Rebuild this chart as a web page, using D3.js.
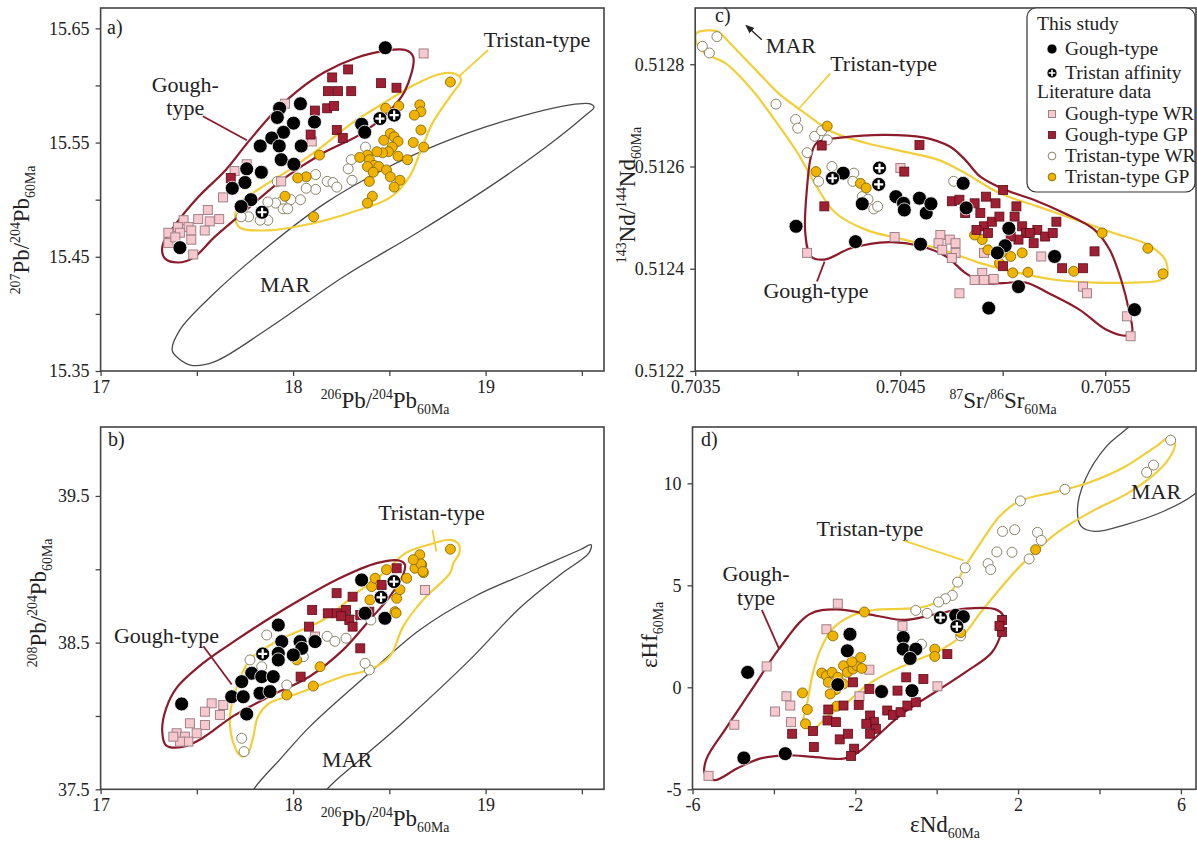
<!DOCTYPE html>
<html><head><meta charset="utf-8">
<script src="https://cdn.jsdelivr.net/npm/d3@7"></script>
<style>
body{margin:0;background:#fff}
svg{display:block}
svg text{font-family:'Liberation Serif','Times New Roman',serif !important;fill:#222}
</style></head><body>
<svg id="chart" width="1197" height="843"></svg>
<script>
// ---------------- DATA: panel a (207Pb/204Pb vs 206Pb/204Pb) ----------------
const aGoughThis=[[18.479,15.633],[17.412,15.458],[17.930,15.580],[17.918,15.572],[18.038,15.584],[18.002,15.567],[18.111,15.568],[17.950,15.559],[17.829,15.547],[17.889,15.554],[17.928,15.547],[18.042,15.547],[17.938,15.535],[18.004,15.531],[17.759,15.527],[17.750,15.515],[17.684,15.510],[17.835,15.524],[17.781,15.500],[17.730,15.494],[18.356,15.566],[18.372,15.559]];
const aTristanAff=[[17.839,15.489],[18.451,15.571],[18.525,15.574]];
const aGoughGP=[[18.203,15.607],[18.286,15.614],[18.181,15.595],[18.233,15.595],[18.302,15.595],[18.113,15.578],[18.177,15.580],[18.213,15.582],[18.227,15.561],[18.258,15.554],[18.091,15.557],[18.457,15.602],[18.537,15.598],[17.676,15.519]];
const aGoughWR=[[18.678,15.628],[17.958,15.584],[18.097,15.551],[17.696,15.525],[17.636,15.502],[17.557,15.491],[17.507,15.483],[17.567,15.481],[17.616,15.483],[17.431,15.482],[17.402,15.476],[17.457,15.476],[17.352,15.471],[17.412,15.471],[17.471,15.473],[17.541,15.473],[17.352,15.462],[17.471,15.465],[17.481,15.452],[17.388,15.467],[17.759,15.531],[17.938,15.516]];
const aTristanGP=[[18.817,15.603],[18.481,15.580],[18.549,15.582],[18.658,15.583],[18.664,15.577],[18.630,15.574],[18.664,15.561],[18.624,15.550],[18.678,15.546],[18.505,15.558],[18.525,15.555],[18.471,15.552],[18.545,15.551],[18.515,15.546],[18.495,15.542],[18.465,15.541],[18.435,15.542],[18.386,15.539],[18.396,15.535],[18.421,15.530],[18.386,15.529],[18.445,15.529],[18.485,15.526],[18.416,15.524],[18.545,15.538],[18.594,15.535],[18.505,15.520],[18.555,15.517],[18.525,15.511],[18.396,15.516],[18.412,15.503],[18.386,15.497],[18.137,15.539],[18.068,15.520],[18.024,15.519],[17.958,15.503],[18.107,15.485],[18.346,15.537]];
const aTristanWR=[[18.376,15.546],[18.302,15.535],[18.286,15.527],[18.306,15.517],[18.117,15.522],[18.177,15.516],[18.207,15.515],[18.227,15.511],[18.117,15.509],[18.068,15.510],[17.918,15.516],[18.038,15.500],[17.988,15.500],[17.938,15.498],[17.909,15.497],[17.869,15.498],[17.948,15.492],[17.972,15.492],[17.869,15.482],[17.829,15.482],[17.769,15.485],[17.730,15.485]];
const aGoughField=[[18.624,15.625],[18.584,15.631],[18.465,15.630],[18.326,15.624],[18.167,15.612],[18.028,15.596],[17.909,15.578],[17.769,15.551],[17.650,15.526],[17.511,15.503],[17.392,15.479],[17.322,15.460],[17.332,15.449],[17.402,15.445],[17.481,15.449],[17.590,15.467],[17.750,15.490],[17.948,15.518],[18.147,15.540],[18.346,15.557],[18.485,15.575],[18.580,15.595]];
const aTristanField=[[17.700,15.488],[17.720,15.476],[17.849,15.473],[18.068,15.478],[18.306,15.489],[18.505,15.502],[18.604,15.520],[18.664,15.543],[18.724,15.567],[18.823,15.592],[18.873,15.605],[18.843,15.610],[18.763,15.610],[18.624,15.600],[18.465,15.584],[18.306,15.567],[18.147,15.546],[17.988,15.527],[17.829,15.510],[17.730,15.498]];
const aMARField=[[17.372,15.368],[17.412,15.360],[17.471,15.355],[17.590,15.358],[17.869,15.387],[18.266,15.433],[18.664,15.473],[19.062,15.516],[19.360,15.552],[19.519,15.574],[19.563,15.581],[19.539,15.584],[19.439,15.583],[19.062,15.567],[18.763,15.549],[18.465,15.526],[18.167,15.497],[17.869,15.459],[17.590,15.418],[17.412,15.386]];

// ---------------- DATA: panel b (208Pb/204Pb vs 206Pb/204Pb) ----------------
const bGoughThis=[[18.356,38.927],[18.374,38.700],[18.477,38.666],[17.923,38.620],[17.941,38.507],[18.036,38.507],[18.114,38.507],[18.045,38.461],[17.923,38.427],[18.001,38.416],[17.923,38.382],[17.785,38.291],[17.733,38.234],[17.837,38.268],[17.897,38.268],[17.681,38.131],[17.741,38.131],[17.828,38.155],[17.880,38.166],[17.759,38.013],[17.421,38.082]];
const bTristanAff=[[17.842,38.423],[18.457,38.809],[18.524,38.916]];
const bGoughGP=[[18.099,38.723],[18.083,38.609],[18.226,38.837],[18.309,38.813],[18.275,38.723],[18.226,38.700],[18.349,38.689],[18.396,38.711],[18.292,38.654],[18.309,38.609],[18.349,38.461],[18.039,38.268],[18.460,38.893],[18.538,39.007],[18.180,38.700],[18.250,38.680]];
const bGoughWR=[[17.577,38.086],[17.637,38.075],[17.542,38.029],[17.620,38.007],[17.464,37.950],[17.542,37.938],[17.395,37.882],[17.438,37.859],[17.499,37.882],[17.456,37.825],[17.412,37.825],[17.378,37.859],[18.114,38.541],[18.685,38.859]];
const bTristanGP=[[18.140,38.336],[18.105,38.204],[17.967,38.143],[18.019,38.382],[18.408,38.882],[18.399,38.791],[18.426,38.939],[18.538,38.802],[18.529,38.711],[18.590,38.939],[18.633,39.007],[18.668,39.030],[18.677,38.977],[18.817,39.137],[18.658,39.099],[18.664,39.037],[18.674,38.985],[18.624,39.065],[18.485,38.997],[18.555,38.861],[18.535,38.702]];
const bTristanWR=[[18.306,38.656],[18.177,38.543],[18.217,38.509],[18.396,38.314],[18.374,38.359],[18.404,38.654],[18.275,38.530],[17.776,38.382],[17.837,38.336],[17.863,38.552],[18.105,38.518],[17.967,38.211],[17.733,37.848],[17.745,37.757],[18.053,38.404]];
const bGoughField=[[17.34,37.80],[17.43,37.79],[17.53,37.85],[17.689,37.999],[17.880,38.135],[18.088,38.271],[18.261,38.452],[18.399,38.656],[18.503,38.815],[18.572,38.963],[18.581,39.031],[18.555,39.058],[18.434,39.042],[18.226,38.929],[18.053,38.804],[17.880,38.668],[17.707,38.520],[17.534,38.362],[17.395,38.192],[17.34,38.05],[17.32,37.90]];
const bTristanField=[[17.728,37.727],[17.762,37.738],[17.790,37.840],[17.819,37.999],[17.880,38.090],[17.984,38.135],[18.105,38.192],[18.261,38.271],[18.399,38.316],[18.503,38.407],[18.572,38.611],[18.676,38.793],[18.815,38.974],[18.833,39.042],[18.863,39.110],[18.859,39.173],[18.814,39.201],[18.704,39.167],[18.584,39.110],[18.469,38.974],[18.330,38.838],[18.157,38.656],[17.932,38.520],[17.776,38.384],[17.698,38.158],[17.672,37.999],[17.689,37.818]];
const bMARField=[[17.799,37.507],[17.932,37.704],[18.088,37.929],[18.399,38.296],[18.659,38.588],[18.940,38.813],[19.231,38.983],[19.491,39.133],[19.548,39.167],[19.537,39.112],[19.387,38.963],[19.179,38.738],[18.919,38.384],[18.571,37.956],[18.332,37.684],[18.176,37.500],[18.036,37.228],[17.672,37.228]];

// ---------------- DATA: panel c (143Nd/144Nd vs 87Sr/86Sr) ----------------
const cGoughThis=[[0.703992,0.512483],[0.704222,0.512587],[0.704315,0.512527],[0.704282,0.512453],[0.704479,0.512541],[0.704516,0.512528],[0.704520,0.512515],[0.704594,0.512538],[0.704627,0.512509],[0.704650,0.512527],[0.704599,0.512448],[0.704807,0.512567],[0.704822,0.512519],[0.705030,0.512479],[0.705012,0.512445],[0.704974,0.512431],[0.705077,0.512365],[0.704932,0.512323],[0.705253,0.512424],[0.705643,0.512320]];
const cTristanAff=[[0.704170,0.512577],[0.704399,0.512597],[0.704395,0.512565]];
const cGoughGP=[[0.704594,0.512642],[0.704117,0.512641],[0.704130,0.512522],[0.704520,0.512590],[0.704752,0.512532],[0.704789,0.512535],[0.704817,0.512509],[0.704919,0.512541],[0.704965,0.512528],[0.705002,0.512554],[0.704863,0.512528],[0.704891,0.512509],[0.704909,0.512483],[0.704872,0.512476],[0.704947,0.512492],[0.704984,0.512502],[0.705067,0.512522],[0.705095,0.512483],[0.705114,0.512470],[0.705169,0.512476],[0.705207,0.512463],[0.705244,0.512470],[0.705262,0.512492],[0.705151,0.512450],[0.705077,0.512457],[0.705132,0.512470],[0.705039,0.512463],[0.705002,0.512405],[0.705290,0.512401],[0.705392,0.512401],[0.705448,0.512434],[0.705058,0.512502],[0.704928,0.512470]];
const cGoughWR=[[0.704501,0.512597],[0.704473,0.512462],[0.704696,0.512466],[0.704687,0.512450],[0.704742,0.512457],[0.704770,0.512450],[0.704705,0.512437],[0.704770,0.512431],[0.704752,0.512421],[0.704909,0.512431],[0.704900,0.512392],[0.704863,0.512378],[0.704909,0.512378],[0.704956,0.512380],[0.704789,0.512352],[0.705392,0.512365],[0.705411,0.512352],[0.705606,0.512307],[0.705624,0.512268],[0.704046,0.512431],[0.705188,0.512424]];
const cTristanGP=[[0.704144,0.512679],[0.704089,0.512590],[0.704306,0.512567],[0.704334,0.512558],[0.704900,0.512457],[0.704863,0.512466],[0.704928,0.512437],[0.704984,0.512411],[0.705039,0.512424],[0.705049,0.512392],[0.705123,0.512393],[0.705346,0.512395],[0.705485,0.512470],[0.705708,0.512440],[0.705782,0.512390],[0.704993,0.512431],[0.705095,0.512431]];
const cTristanWR=[[0.703535,0.512835],[0.703569,0.512822],[0.703606,0.512854],[0.703894,0.512722],[0.703990,0.512692],[0.704000,0.512675],[0.704083,0.512659],[0.704046,0.512627],[0.704117,0.512670],[0.704144,0.512652],[0.704167,0.512600],[0.704102,0.512571],[0.704274,0.512587],[0.704269,0.512571],[0.704315,0.512541],[0.704371,0.512517],[0.704390,0.512522],[0.704343,0.512536],[0.704761,0.512571]];
const cGoughField=[[0.704092,0.512646],[0.704222,0.512657],[0.704427,0.512662],[0.704612,0.512657],[0.704742,0.512639],[0.704817,0.512613],[0.704891,0.512580],[0.705002,0.512556],[0.705151,0.512535],[0.705299,0.512509],[0.705448,0.512476],[0.705522,0.512437],[0.705578,0.512378],[0.705615,0.512320],[0.705630,0.512274],[0.705597,0.512269],[0.705504,0.512281],[0.705374,0.512320],[0.705225,0.512352],[0.705114,0.512373],[0.705002,0.512372],[0.704909,0.512372],[0.704817,0.512392],[0.704724,0.512424],[0.704594,0.512445],[0.704445,0.512452],[0.704260,0.512440],[0.704130,0.512418],[0.704065,0.512424],[0.704037,0.512470],[0.704046,0.512561],[0.704065,0.512620]];
const cTristanField=[[0.703507,0.512861],[0.703554,0.512866],[0.703610,0.512864],[0.703684,0.512835],[0.703795,0.512789],[0.703907,0.512743],[0.704037,0.512704],[0.704167,0.512668],[0.704334,0.512646],[0.704519,0.512629],[0.704687,0.512613],[0.704817,0.512587],[0.704984,0.512548],[0.705169,0.512522],[0.705355,0.512496],[0.705541,0.512470],[0.705708,0.512447],[0.705792,0.512418],[0.705801,0.512388],[0.705764,0.512377],[0.705634,0.512373],[0.705448,0.512373],[0.705262,0.512378],[0.705077,0.512392],[0.704891,0.512411],[0.704705,0.512437],[0.704519,0.512457],[0.704334,0.512476],[0.704185,0.512509],[0.704092,0.512561],[0.704000,0.512626],[0.703888,0.512691],[0.703777,0.512750],[0.703647,0.512802],[0.703545,0.512822],[0.703507,0.512841]];

// ---------------- DATA: panel d (eHf vs eNd) ----------------
const dGoughThis=[[-4.645,0.732],[-4.738,-3.463],[-3.720,-3.252],[-2.430,0.130],[-2.131,2.602],[-2.196,1.789],[-1.355,-0.211],[-0.607,-0.163],[-0.822,2.439],[-0.822,1.870],[-0.514,1.870],[-0.654,1.415],[0.467,3.528],[0.654,3.463]];
const dTristanAff=[[0.093,3.415],[0.495,2.976]];
const dGoughGP=[[-3.551,-2.276],[-3.037,-2.146],[-3.019,-2.927],[-2.664,-1.089],[-2.682,-1.626],[-2.477,-1.707],[-2.290,-0.894],[-1.916,-0.862],[-2.383,-2.553],[-2.178,-2.276],[-2.028,-3.008],[-2.103,-3.366],[-2.056,0.244],[-1.654,-0.081],[-1.636,-1.382],[-1.542,-1.707],[-1.729,-1.789],[-1.495,-2.033],[-1.636,-2.276],[-1.215,-1.138],[-1.075,-1.350],[-0.888,-1.220],[-0.720,-0.894],[-0.514,-0.732],[-0.748,0.488],[-0.327,0.407],[-0.963,-0.163],[0.262,1.626],[1.607,3.301],[1.607,2.715],[1.542,3.008]];
const dGoughWR=[[-2.430,4.098],[-2.710,2.846],[-4.178,1.024],[-4.972,-1.837],[-3.972,-1.187],[-3.692,-0.439],[-3.598,-0.894],[-3.579,-1.707],[-5.607,-4.341],[-1.654,0.862],[0.019,0.049],[-0.841,3.008],[-1.897,-0.439]];
const dTristanGP=[[-1.776,3.691],[-2.551,2.520],[-3.299,-0.276],[-3.178,-1.089],[-3.224,-1.789],[-2.822,0.699],[-2.710,0.569],[-2.570,0.732],[-2.430,0.488],[-2.290,1.057],[-2.196,0.732],[-2.056,0.894],[-1.963,1.057],[-1.841,0.927],[-1.869,1.463],[-2.084,1.252],[-2.664,0.244],[-2.477,-0.114],[-2.290,0.163],[-2.617,-0.325],[-2.458,-0.927],[-0.047,1.870],[-0.047,1.512],[2.430,6.748],[0.589,2.683]];
const dTristanWR=[[5.748,12.114],[5.327,10.894],[5.159,10.537],[3.150,9.707],[2.056,9.138],[1.617,7.642],[1.916,7.724],[2.477,7.593],[2.570,7.203],[1.477,6.634],[1.850,6.618],[2.271,6.293],[1.262,6.065],[1.327,5.772],[0.701,5.854],[0.514,5.154],[0.383,4.504],[0.215,4.341],[0.047,4.179],[-0.514,3.772],[-0.234,3.626],[-0.374,2.114],[0.589,2.520]];
const dGoughField=[[-5.701,-4.228],[-5.467,-4.553],[-4.907,-3.984],[-4.346,-3.496],[-3.692,-3.333],[-3.037,-3.415],[-2.290,-3.496],[-1.916,-3.171],[-1.542,-2.520],[-0.794,-1.220],[-0.047,-0.244],[0.701,0.732],[1.355,1.707],[1.589,2.683],[1.636,3.496],[1.449,3.821],[0.701,3.854],[-0.047,3.577],[-0.794,3.301],[-1.449,3.496],[-2.477,3.821],[-3.131,3.577],[-3.879,1.870],[-4.533,-0.081],[-5.187,-2.033],[-5.654,-3.496]];
const dTristanField=[[-3.271,-1.870],[-3.178,-0.732],[-3.037,0.732],[-2.850,1.870],[-2.570,2.846],[-2.103,3.496],[-1.542,3.789],[-0.794,3.854],[-0.234,3.984],[0.327,4.634],[0.701,5.935],[1.075,7.073],[1.542,8.374],[2.009,9.106],[2.944,9.593],[3.692,10.0],[4.626,10.813],[5.374,11.789],[5.748,12.276],[5.860,11.951],[5.654,11.057],[5.280,10.325],[4.626,9.431],[3.879,8.699],[2.944,7.561],[2.477,6.748],[2.009,5.854],[1.542,4.797],[1.075,3.659],[0.701,2.683],[0.140,1.870],[-0.421,1.382],[-1.168,0.732],[-1.729,0.081],[-2.196,-0.732],[-2.664,-1.382],[-3.037,-2.033]];
const dMARField=[[4.766,12.846],[4.159,11.789],[3.645,10.163],[3.458,8.699],[3.551,7.886],[3.879,7.642],[4.626,7.967],[5.561,8.618],[6.308,9.431],[6.68,10.16],[6.87,12.3],[5.75,13.4],[5.0,13.4]];

// ---------------- ticks & labels ----------------
const abXTicks=[17,18,19], abXMinor=[17.5,18.5,19.5];
const aYTicks=[15.35,15.45,15.55,15.65], aYMinor=[15.40,15.50,15.60];
const bYTicks=[37.5,38.5,39.5], bYMinor=[38.0,39.0];
const cXTicks=[0.7035,0.7045,0.7055], cXMinor=[0.7040,0.7050];
const cYTicks=[0.5122,0.5124,0.5126,0.5128];
const dXTicks=[-6,-2,2,6], dXMinor=[-4,0,4];
const dYTicks=[-5,0,5,10];
const legendHeaders=['This study','Literature data'];
const legendItems=['Gough-type','Tristan affinity','Gough-type WR','Gough-type GP','Tristan-type WR','Tristan-type GP'];

// ---------------- styling ----------------
const FONT="'Liberation Serif','Times New Roman',serif";
const COL={gough:'#8c1b2c',tristan:'#f1cf3a',mar:'#4a4a4a',ggp:'#a01f33',ggpS:'#5a0d18',gwr:'#f7c9cf',gwrS:'#a08086',tgp:'#f0b300',tgpS:'#7a5f00',twrS:'#8a8468',ink:'#222',frame:'#444'};
const svg=d3.select('#chart');

const panels=[
 {id:'a',L:100.6,R:604,T:8,B:371,xd:[17,19.615],yd:[15.35,15.6678],xt:abXTicks,xm:abXMinor,yt:aYTicks,ym:aYMinor,xf:d3.format('d'),yf:d3.format('.2f'),
  tw:aTristanWR,tg:aTristanGP,gw:aGoughWR,gg:aGoughGP,bk:aGoughThis,cr:aTristanAff,gf:aGoughField,tf:aTristanField,mf:aMARField},
 {id:'b',L:100.6,R:604,T:427,B:789.3,xd:[17,19.615],yd:[37.5,39.97],xt:abXTicks,xm:abXMinor,yt:bYTicks,ym:bYMinor,xf:d3.format('d'),yf:d3.format('.1f'),
  tw:bTristanWR,tg:bTristanGP,gw:bGoughWR,gg:bGoughGP,bk:bGoughThis,cr:bTristanAff,gf:bGoughField,tf:bTristanField,mf:bMARField},
 {id:'c',L:695.2,R:1196,T:8,B:371,xd:[0.7035,0.705943],yd:[0.5122,0.51291],xt:cXTicks,xm:cXMinor,yt:cYTicks,ym:[],xf:d3.format('.4f'),yf:d3.format('.4f'),
  tw:cTristanWR,tg:cTristanGP,gw:cGoughWR,gg:cGoughGP,bk:cGoughThis,cr:cTristanAff,gf:cGoughField,tf:cTristanField,mf:null},
 {id:'d',L:692.5,R:1196,T:427,B:789.3,xd:[-6,6.371],yd:[-5,12.76],xt:dXTicks,xm:dXMinor,yt:dYTicks,ym:[],xf:d=>String(d),yf:d=>String(d),
  tw:dTristanWR,tg:dTristanGP,gw:dGoughWR,gg:dGoughGP,bk:dGoughThis,cr:dTristanAff,gf:dGoughField,tf:dTristanField,mf:dMARField}
];

function mark(g,type,cx,cy,k){
  k=k||1;
  if(type==='bk'){g.append('circle').attr('cx',cx).attr('cy',cy).attr('r',7*k).attr('fill','#000').attr('stroke','#fff').attr('stroke-width',0.8);}
  else if(type==='cr'){g.append('circle').attr('cx',cx).attr('cy',cy).attr('r',7*k).attr('fill','#000').attr('stroke','#fff').attr('stroke-width',0.8);
    const a=4.6*k;g.append('path').attr('d',`M${cx-a},${cy}H${cx+a}M${cx},${cy-a}V${cy+a}`).attr('stroke','#fff').attr('stroke-width',2.2*k);}
  else if(type==='gg'){const s=9*k;g.append('rect').attr('x',cx-s/2).attr('y',cy-s/2).attr('width',s).attr('height',s).attr('fill',COL.ggp).attr('stroke',COL.ggpS).attr('stroke-width',0.8);}
  else if(type==='gw'){const s=9*k;g.append('rect').attr('x',cx-s/2).attr('y',cy-s/2).attr('width',s).attr('height',s).attr('fill',COL.gwr).attr('stroke',COL.gwrS).attr('stroke-width',1);}
  else if(type==='tg'){g.append('circle').attr('cx',cx).attr('cy',cy).attr('r',5*k).attr('fill',COL.tgp).attr('stroke',COL.tgpS).attr('stroke-width',0.8);}
  else if(type==='tw'){g.append('circle').attr('cx',cx).attr('cy',cy).attr('r',5*k).attr('fill','#fff').attr('stroke',COL.twrS).attr('stroke-width',1);}
}

function rich(sel,parts,size){
  const t=sel.append('text').attr('font-size',size).attr('text-anchor','middle').style('font-family',FONT);
  let cur=0;
  parts.forEach(([txt,kind])=>{
    const off=kind==='sup'?-0.4*size:kind==='sub'?0.25*size:0;
    t.append('tspan').attr('dy',off-cur).attr('font-size',kind?size*0.6:size).text(txt);
    cur=off;
  });
  return t;
}

const scales={};
panels.forEach(p=>{
  const x=d3.scaleLinear().domain(p.xd).range([p.L,p.R]);
  const y=d3.scaleLinear().domain(p.yd).range([p.B,p.T]);
  scales[p.id]={x,y};
  const clipId='clip-'+p.id;
  svg.append('clipPath').attr('id',clipId).append('rect').attr('x',p.L).attr('y',p.T).attr('width',p.R-p.L).attr('height',p.B-p.T);
  const g=svg.append('g').attr('clip-path',`url(#${clipId})`);
  const line=d3.line().x(d=>x(d[0])).y(d=>y(d[1])).curve(d3.curveCatmullRomClosed.alpha(0.5));
  if(p.mf) g.append('path').attr('d',line(p.mf)).attr('fill','none').attr('stroke',COL.mar).attr('stroke-width',1.3);
  g.append('path').attr('d',line(p.tf)).attr('fill','none').attr('stroke',COL.tristan).attr('stroke-width',2.2);
  g.append('path').attr('d',line(p.gf)).attr('fill','none').attr('stroke',COL.gough).attr('stroke-width',2.2);
  const pg=g.append('g');
  p.tw.forEach(d=>mark(pg,'tw',x(d[0]),y(d[1])));
  p.gw.forEach(d=>mark(pg,'gw',x(d[0]),y(d[1])));
  p.tg.forEach(d=>mark(pg,'tg',x(d[0]),y(d[1])));
  p.gg.forEach(d=>mark(pg,'gg',x(d[0]),y(d[1])));
  p.bk.forEach(d=>mark(pg,'bk',x(d[0]),y(d[1])));
  p.cr.forEach(d=>mark(pg,'cr',x(d[0]),y(d[1])));

  // axes
  const styleAxis=a=>{a.attr('font-family',null).attr('font-size',null);
    a.select('.domain').remove();a.selectAll('line').attr('stroke',COL.frame).attr('stroke-width',1.3);
    a.selectAll('text').style('font-family',FONT).style('font-size','18px').attr('fill',COL.ink);};
  svg.append('g').attr('transform',`translate(0,${p.B})`).call(d3.axisBottom(x).tickValues(p.xt).tickFormat(p.xf).tickSize(5).tickPadding(4)).call(styleAxis);
  svg.append('g').attr('transform',`translate(0,${p.B})`).call(d3.axisBottom(x).tickValues(p.xm).tickFormat('').tickSize(5)).call(styleAxis);
  svg.append('g').attr('transform',`translate(${p.L},0)`).call(d3.axisLeft(y).tickValues(p.yt).tickFormat(p.yf).tickSize(5).tickPadding(6)).call(styleAxis);
  if(p.ym.length) svg.append('g').attr('transform',`translate(${p.L},0)`).call(d3.axisLeft(y).tickValues(p.ym).tickFormat('').tickSize(5)).call(styleAxis);
  svg.append('rect').attr('x',p.L).attr('y',p.T).attr('width',p.R-p.L).attr('height',p.B-p.T).attr('fill','none').attr('stroke',COL.frame).attr('stroke-width',1.6);
});

// panel letters
[['a)',107,34],['b)',108,446],['c)',715,22],['d)',701,446]].forEach(([t,px,py])=>svg.append('text').attr('x',px).attr('y',py).attr('font-size',20).text(t));

// annotations (positions given in data units of each panel)
function ann(id,txt,dx,dy,anchor){const s=scales[id];svg.append('text').attr('x',s.x(dx)).attr('y',s.y(dy)).attr('font-size',22).attr('text-anchor',anchor||'middle').text(txt);}
function lead(id,a,b,color,w){const s=scales[id];svg.append('line').attr('x1',s.x(a[0])).attr('y1',s.y(a[1])).attr('x2',s.x(b[0])).attr('y2',s.y(b[1])).attr('stroke',color).attr('stroke-width',w||1.8);}

// a
ann('a','Gough-',17.44,15.594); ann('a','type',17.44,15.574);
lead('a',[17.531,15.573],[17.760,15.552],COL.gough);
ann('a','Tristan-type',19.267,15.634);
lead('a',[19.013,15.631],[18.862,15.608],COL.tristan);
ann('a','MAR',17.958,15.419);
// b
ann('b','Gough-type',17.342,38.50);
lead('b',[17.534,38.475],[17.681,38.214],COL.gough);
ann('b','Tristan-type',18.719,39.337);
lead('b',[18.724,39.269],[18.744,39.121],COL.tristan);
ann('b','MAR',18.28,37.65);
// c
ann('c','Tristan-type',0.704419,0.512786);
lead('c',[0.704159,0.512782],[0.704001,0.512711],COL.tristan);
ann('c','MAR',0.703967,0.512822);
svg.append('defs').append('marker').attr('id','arr').attr('viewBox','0 0 10 10').attr('refX',8).attr('refY',5).attr('markerWidth',7).attr('markerHeight',7).attr('orient','auto')
  .append('path').attr('d','M0,1L10,5L0,9Z').attr('fill','#222');
{const s=scales.c;svg.append('line').attr('x1',s.x(0.703825)).attr('y1',s.y(0.512848)).attr('x2',s.x(0.703751)).attr('y2',s.y(0.512875)).attr('stroke','#222').attr('stroke-width',1.3).attr('marker-end','url(#arr)');}
ann('c','Gough-type',0.704089,0.512343);
lead('c',[0.704131,0.512414],[0.704094,0.512375],COL.gough);
// d
ann('d','Gough-',-4.44,5.2); ann('d','type',-4.44,4.04);
lead('d',[-4.297,3.79],[-3.875,1.90],COL.gough);
ann('d','Tristan-type',-1.639,7.43);
lead('d',[-0.789,7.18],[0.663,6.22],COL.tristan);
ann('d','MAR',5.39,9.24);

// axis titles
const PB=['Pb'];
rich(svg.append('g').attr('transform','translate(385,408)'),[['206','sup'],PB,['/'],['204','sup'],PB,['60Ma','sub']],23);
rich(svg.append('g').attr('transform','translate(385,826)'),[['206','sup'],PB,['/'],['204','sup'],PB,['60Ma','sub']],23);
rich(svg.append('g').attr('transform','translate(29,230) rotate(-90)'),[['207','sup'],PB,['/'],['204','sup'],PB,['60Ma','sub']],23);
rich(svg.append('g').attr('transform','translate(46,603) rotate(-90)'),[['208','sup'],PB,['/'],['204','sup'],PB,['60Ma','sub']],23);
rich(svg.append('g').attr('transform','translate(1003,408)'),[['87','sup'],['Sr'],['/'],['86','sup'],['Sr'],['60Ma','sub']],23);
rich(svg.append('g').attr('transform','translate(635,195) rotate(-90)'),[['143','sup'],['Nd'],['/'],['144','sup'],['Nd'],['60Ma','sub']],23);
rich(svg.append('g').attr('transform','translate(945,832)'),[['εNd'],['60Ma','sub']],23);
rich(svg.append('g').attr('transform','translate(657,635) rotate(-90)'),[['εHf'],['60Ma','sub']],23);

// legend
const lg=svg.append('g');
lg.append('rect').attr('x',1027).attr('y',8).attr('width',168).attr('height',184).attr('rx',9).attr('fill','#fff').attr('stroke','#333').attr('stroke-width',1.2);
lg.append('text').attr('x',1037).attr('y',30).attr('font-size',19.5).text(legendHeaders[0]);
lg.append('text').attr('x',1037).attr('y',98).attr('font-size',19.5).text(legendHeaders[1]);
const lTypes=['bk','cr','gw','gg','tw','tg'], lY=[49,73,114,135,156,177];
legendItems.forEach((t,i)=>{mark(lg,lTypes[i],1052,lY[i],i<2?0.72:0.78);
  lg.append('text').attr('x',1065).attr('y',lY[i]+6).attr('font-size',19.5).text(t);});
</script>
</body></html>
